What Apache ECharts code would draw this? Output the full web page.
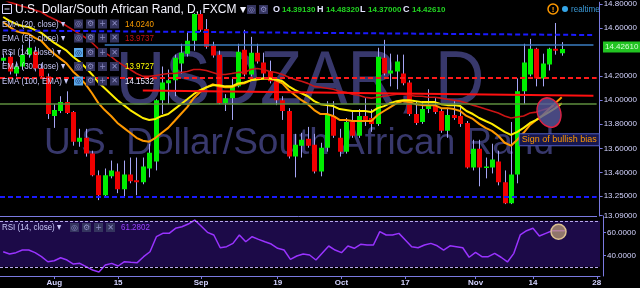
<!DOCTYPE html>
<html><head><meta charset="utf-8">
<script src="https://cdn.jsdelivr.net/npm/echarts@6/dist/echarts.min.js"></script>
<style>html,body{margin:0;padding:0;background:#000;}#c{width:640px;height:288px;}</style>
</head><body><div id="c"></div>
<script>
// ---------- DATA ----------
const dates = [
'2016-07-20','2016-07-21','2016-07-22','2016-07-25','2016-07-26','2016-07-27','2016-07-28','2016-07-29',
'2016-08-01','2016-08-02','2016-08-03','2016-08-04','2016-08-05','2016-08-08','2016-08-09','2016-08-10','2016-08-11','2016-08-12',
'2016-08-15','2016-08-16','2016-08-17','2016-08-18','2016-08-19','2016-08-22','2016-08-23','2016-08-24','2016-08-25','2016-08-26',
'2016-08-29','2016-08-30','2016-08-31','2016-09-01','2016-09-02','2016-09-05','2016-09-06','2016-09-07','2016-09-08','2016-09-09',
'2016-09-12','2016-09-13','2016-09-14','2016-09-15','2016-09-16','2016-09-19','2016-09-20','2016-09-21','2016-09-22','2016-09-23',
'2016-09-26','2016-09-27','2016-09-28','2016-09-29','2016-09-30','2016-10-03','2016-10-04','2016-10-05','2016-10-06','2016-10-07',
'2016-10-10','2016-10-11','2016-10-12','2016-10-13','2016-10-14','2016-10-17','2016-10-18','2016-10-19','2016-10-20','2016-10-21',
'2016-10-24','2016-10-25','2016-10-26','2016-10-27','2016-10-28','2016-10-31','2016-11-01','2016-11-02','2016-11-03','2016-11-04',
'2016-11-07','2016-11-08','2016-11-09','2016-11-10','2016-11-11','2016-11-14','2016-11-15','2016-11-16','2016-11-17','2016-11-18',
'2016-11-21','2016-11-22','2016-11-23','2016-11-24','2016-11-25','2016-11-28'];

const opens = [
14.329,14.362,14.222,14.280,14.379,14.403,14.264,14.198,13.869,13.910,
13.984,13.901,13.655,13.687,13.556,13.375,13.210,13.367,13.408,13.260,
13.383,13.334,13.317,13.432,13.490,14.000,14.140,14.165,14.305,14.387,
14.494,14.716,14.593,14.453,14.379,13.976,14.017,14.115,14.420,14.214,
14.395,14.313,14.239,14.157,14.000,13.910,13.531,13.622,13.679,13.630,
13.408,13.605,13.869,13.687,13.572,13.819,13.704,13.869,13.852,13.803,
14.354,14.222,14.239,14.222,14.148,13.885,13.819,13.926,13.951,13.910,
13.745,13.877,13.869,13.811,13.441,13.597,13.441,13.441,13.490,13.317,
13.144,13.383,14.074,14.214,14.428,14.181,14.297,14.428,14.3913];
const closes = [
14.354,14.239,14.280,14.379,14.436,14.264,14.198,13.885,13.918,13.984,
13.893,13.655,13.687,13.556,13.375,13.210,13.375,13.416,13.260,13.383,
13.325,13.317,13.449,13.564,14.000,14.148,14.165,14.354,14.395,14.494,
14.716,14.585,14.445,14.371,13.976,14.017,14.115,14.403,14.214,14.395,
14.321,14.222,14.157,14.000,13.910,13.531,13.630,13.671,13.622,13.408,
13.605,13.877,13.704,13.572,13.819,13.704,13.869,13.836,13.803,14.362,
14.222,14.247,14.321,14.140,13.885,13.811,13.926,13.959,13.901,13.745,
13.877,13.852,13.803,13.441,13.597,13.441,13.449,13.506,13.317,13.144,
13.383,14.074,14.313,14.428,14.181,14.305,14.428,14.412,14.4261];
const lows = [
14.305,14.214,14.198,14.255,14.354,14.239,14.181,13.844,13.770,13.893,
13.885,13.622,13.613,13.531,13.367,13.169,13.202,13.350,13.227,13.194,
13.309,13.210,13.301,13.358,13.416,13.885,13.967,14.033,14.222,14.362,
14.412,14.568,14.428,14.354,13.967,13.910,13.836,14.107,14.198,14.198,
14.305,14.173,14.140,13.959,13.836,13.515,13.358,13.523,13.605,13.391,
13.367,13.572,13.687,13.531,13.556,13.687,13.687,13.786,13.737,13.786,
14.206,14.115,14.091,14.124,13.869,13.794,13.803,13.893,13.885,13.729,
13.687,13.836,13.778,13.432,13.416,13.284,13.350,13.391,13.292,13.136,
13.136,13.309,13.967,14.198,14.115,14.115,14.247,14.379,14.37];
const highs = [
14.387,14.403,14.321,14.461,14.510,14.445,14.305,14.222,13.967,14.033,
14.074,13.910,13.762,13.762,13.580,13.416,13.432,13.498,13.474,13.498,
13.523,13.523,13.523,13.638,14.008,14.280,14.255,14.379,14.469,14.568,
14.724,14.749,14.675,14.486,14.412,14.050,14.181,14.469,14.585,14.527,
14.469,14.395,14.329,14.190,14.033,13.934,13.720,13.729,13.778,13.720,
13.646,13.992,13.992,13.762,13.852,13.910,13.926,14.017,13.926,14.436,
14.502,14.387,14.379,14.379,14.165,13.992,13.992,14.091,14.017,13.934,
13.934,13.992,13.959,13.827,13.671,13.671,13.523,13.638,13.580,13.416,
13.819,14.181,14.469,14.510,14.436,14.387,14.436,14.642,14.4832];

const ema20 = [
14.650,14.609,14.576,14.560,14.552,14.519,14.494,14.436,14.387,14.346,
14.305,14.239,14.190,14.132,14.058,13.976,13.918,13.869,13.811,13.770,
13.729,13.687,13.663,13.655,13.687,13.729,13.770,13.827,13.885,13.943,
14.017,14.066,14.107,14.132,14.115,14.107,14.107,14.132,14.140,14.165,
14.181,14.181,14.181,14.165,14.140,14.083,14.041,14.000,13.967,13.918,
13.885,13.885,13.869,13.836,13.836,13.827,13.827,13.827,13.827,13.877,
13.910,13.943,13.976,13.992,13.984,13.967,13.959,13.959,13.959,13.934,
13.934,13.926,13.910,13.869,13.844,13.803,13.770,13.745,13.704,13.646,
13.622,13.671,13.729,13.794,13.836,13.877,13.926,13.976,14.024];
const ema30 = [
14.692,14.659,14.634,14.617,14.609,14.585,14.560,14.519,14.478,14.445,
14.412,14.362,14.321,14.272,14.214,14.148,14.099,14.050,14.000,13.959,
13.918,13.885,13.852,13.836,13.844,13.869,13.885,13.926,13.967,14.008,
14.050,14.083,14.107,14.124,14.124,14.115,14.115,14.140,14.148,14.165,
14.173,14.181,14.181,14.173,14.157,14.115,14.083,14.058,14.033,13.992,
13.967,13.959,13.951,13.926,13.918,13.910,13.910,13.910,13.901,13.934,
13.951,13.976,13.992,14.000,14.000,13.992,13.984,13.984,13.984,13.967,
13.959,13.959,13.951,13.910,13.885,13.852,13.827,13.803,13.770,13.737,
13.712,13.737,13.770,13.811,13.836,13.869,13.901,13.934,13.973];
const ema55 = [
14.840,14.815,14.799,14.782,14.766,14.749,14.733,14.700,14.675,14.650,
14.617,14.585,14.552,14.519,14.478,14.428,14.395,14.362,14.321,14.288,
14.255,14.222,14.198,14.198,14.206,14.214,14.222,14.222,14.231,14.239,
14.255,14.255,14.247,14.231,14.214,14.214,14.222,14.231,14.231,14.255,
14.264,14.255,14.239,14.231,14.214,14.190,14.173,14.157,14.140,14.115,
14.107,14.099,14.091,14.074,14.066,14.050,14.041,14.025,14.017,14.025,
14.033,14.041,14.050,14.050,14.041,14.033,14.033,14.025,14.025,14.017,
14.008,14.000,13.992,13.976,13.959,13.943,13.926,13.910,13.893,13.869,
13.852,13.860,13.869,13.893,13.901,13.918,13.934,13.951,13.974];
const rsi = [
43.1,41.1,42.3,44.6,44.6,42.3,38.8,34.4,35.3,37.9,
35.9,32.4,33.0,30.1,27.2,25.5,31.6,33.0,30.7,34.4,
33.9,33.6,38.8,43.1,56.2,59.1,59.1,63.5,64.9,67.2,
70.7,65.5,60.0,57.7,46.6,47.5,50.4,57.7,51.8,56.2,
53.9,51.8,49.8,46.1,44.6,36.5,39.4,41.1,40.3,35.9,
42.0,48.1,44.6,42.3,48.1,46.1,49.6,49.0,49.0,60.6,
57.7,57.7,59.1,53.3,47.5,46.6,49.0,50.4,48.3,44.6,
48.3,47.5,46.6,38.3,42.6,38.8,38.8,41.7,38.3,34.2,
41.7,57.7,61.4,63.5,56.8,59.1,61.4,61.4,61.28];

// horizontal drawings (price levels)
const blueTopLine = [14.580, 14.542];   // start / end
const steelLine = 14.461;
const redDashLevel = 14.185;
const redTrendLine = [14.080, 14.036];
const greenLevel = 13.970;
const blueBottomLevel = 13.202;
const lastPrice = 14.4261;

const xTickDates = ['2016-08-01','2016-08-15','2016-09-01','2016-09-19','2016-10-03','2016-10-17','2016-11-01','2016-11-14','2016-11-28'];
const xTickText  = ['Aug','15','Sep','19','Oct','17','Nov','14','28'];
const yTickValues = [13.04, 13.202, 13.4, 13.6, 13.8, 14.0, 14.2, 14.6, 14.8];
const yTickLabels = ['13.09000','13.25000','13.40000','13.60000','13.80000','14.00000','14.20000','14.60000','14.80000'];
const rsiTickValues = [40, 60];

const legendRows = [
  {name:'EMA (20, close) \u25BE', value:'14.0240', color:'#ff9f00', hi:false},
  {name:'EMA (55, close) \u25BE', value:'13.9737', color:'#c81212', hi:false},
  {name:'RSI (14, close) \u25BE', value:'', color:'#fff', hi:true},
  {name:'EMA (30, close) \u25BE', value:'13.9727', color:'#ffff00', hi:false},
  {name:'EMA (100, EMA) \u25BE', value:'14.1532', color:'#e8e8ff', hi:true}
];
const ohlc = [['O','14.39130'],['H','14.48320'],['L','14.37000'],['C','14.42610']];

// ---------- CHART ----------
const axisColor = '#7a7ae0';
const labelColor = '#d4d4ff';
const chart = echarts.init(document.getElementById('c'), null, {renderer:'canvas'});
const candleData = opens.map((o, i) => [i, o, closes[i], lows[i], highs[i]]);

function renderCandle(params, api) {
  const i = api.value(0);
  const o = api.value(1), c = api.value(2), l = api.value(3), h = api.value(4);
  const po = api.coord([i, o]);
  const yc = api.coord([i, c])[1], yl = api.coord([i, l])[1], yh = api.coord([i, h])[1];
  const xr = Math.round(po[0]);
  const bw = 5;
  const up = c >= o;
  const top = Math.min(po[1], yc), hgt = Math.max(1.5, Math.abs(po[1] - yc));
  return {type:'group', children:[
    {type:'line', shape:{x1:xr+0.5, y1:yh, x2:xr+0.5, y2:yl}, style:{stroke:'#a6a6f6', lineWidth:1}},
    {type:'rect', shape:{x:xr+0.5-bw/2, y:top, width:bw, height:hgt}, style:{fill: up ? '#00ee00' : '#f00000'}}
  ]};
}

const F = '"Liberation Sans", Arial, sans-serif';
function txt(x, y, text, fill, font, sx, align) {
  return {type:'text', x:x, y:y, z:100, silent:true, scaleX: sx || 1,
    style:{text:text, fill:fill, font:font, align:align||'left', textAlign:align||'left',
      verticalAlign:'middle', textVerticalAlign:'middle'}};
}
const glyphs = ['\u25CE','\u2699','+','\u2715'];
function icons(xs, y, hi, n) {
  const out = [];
  for (let k = 0; k < (n||4); k++) {
    const h = hi && k === 0;
    out.push({type:'rect', z:100, silent:true, shape:{x:xs[k], y:y-4.5, width:9, height:9},
      style:{fill: h ? '#5aa8ea' : '#34345e'}});
    out.push(txt(xs[k]+4.5, y, glyphs[k], h ? '#1a2a60' : '#8c8cc4', '8px "DejaVu Sans", sans-serif', 1, 'center'));
  }
  return out;
}

const graphics = [];
// watermark
graphics.push({type:'text', x:300, y:83, z:0, silent:true, scaleX:0.9,
  style:{text:'USDZAR, D', fill:'#38386c', font:'76px '+F, align:'center', textAlign:'center', verticalAlign:'middle', textVerticalAlign:'middle'}});
graphics.push({type:'text', x:299, y:144, z:0, silent:true,
  style:{text:'U.S. Dollar/South African Rand', fill:'#38386c', font:'37px '+F, align:'center', textAlign:'center', verticalAlign:'middle', textVerticalAlign:'middle'}});
// header
graphics.push({type:'rect', z:100, silent:true, shape:{x:2.5, y:4.5, width:9, height:9}, style:{fill:'none', stroke:'#d8d8ff', lineWidth:1}});
graphics.push({type:'line', z:100, silent:true, shape:{x1:4.5, y1:9, x2:9.5, y2:9}, style:{stroke:'#d8d8ff', lineWidth:1}});
graphics.push(txt(15, 10, 'U.S. Dollar/South African Rand, D, FXCM \u25BE', '#f4f4ff', '12px '+F));
graphics.push(...icons([247, 259], 9.5, false, 2));
const ohlcX = [[273, 282], [317, 326], [360, 368], [403, 412]];
ohlc.forEach((p, k) => {
  graphics.push(txt(ohlcX[k][0], 10, p[0], '#e4e4ff', 'bold 9px '+F));
  graphics.push(txt(ohlcX[k][1], 10, p[1], '#22d622', 'bold 8px '+F));
});
// realtime
graphics.push({type:'circle', z:100, silent:true, shape:{cx:553, cy:9, r:5}, style:{fill:'none', stroke:'#ff9900', lineWidth:1.5}});
graphics.push(txt(553, 9.5, '!', '#ff9900', 'bold 8px '+F, 1, 'center'));
graphics.push({type:'circle', z:100, silent:true, shape:{cx:565, cy:9, r:3}, style:{fill:'#35a6e8'}});
graphics.push(txt(571, 9, 'realtime', '#3a9ad8', '9.5px '+F, 0.85));
// legend rows
const rowY = [24, 38, 52.5, 66.5, 81];
legendRows.forEach((r, k) => {
  graphics.push(txt(2, rowY[k], r.name, '#c8c8f8', '9.5px '+F, 0.84));
  graphics.push(...icons([74, 86, 98, 110], rowY[k], r.hi));
  if (r.value) graphics.push(txt(125, rowY[k], r.value, r.color, '9.5px '+F, 0.84));
});
// rsi legend
graphics.push(txt(2, 227.5, 'RSI (14, close) \u25BE', '#c8c8f8', '9.5px '+F, 0.84));
graphics.push(...icons([70, 82, 94, 106], 227.5, false));
graphics.push(txt(121, 227.5, '61.2802', '#9a40ff', '9.5px '+F, 0.84));
// current price tag on the price scale
graphics.push({type:'rect', z:100, silent:true, shape:{x:603, y:41.5, width:37, height:11}, style:{fill:'#22c422'}});
graphics.push(txt(605, 47.2, '14.42610', '#d8ffd8', '8px '+F));

const redDash = {color:'#ff1a1a', width:2, type:[5,3]};
const blueDash = {color:'#1a1aff', width:2, type:[5,3]};

const option = {
  backgroundColor:'#000000',
  animation:false,
  textStyle:{fontFamily:'Liberation Sans, Arial, sans-serif'},
  grid:[{left:0, right:40, top:0, height:216}, {left:0, right:40, top:216, height:60}],
  xAxis:[
    {type:'category', gridIndex:0, data:dates, boundaryGap:true,
     axisLine:{show:true, onZero:false, lineStyle:{color:axisColor, width:1}}, axisTick:{show:false}, axisLabel:{show:false}, splitLine:{show:false}},
    {type:'category', gridIndex:1, data:dates, boundaryGap:true,
     axisLine:{show:true, onZero:false, lineStyle:{color:axisColor, width:1}},
     axisTick:{show:true, alignWithLabel:true, length:3, lineStyle:{color:axisColor},
       interval:(idx, v) => xTickDates.indexOf(v) >= 0},
     axisLabel:{interval:(idx, v) => xTickDates.indexOf(v) >= 0,
       formatter:(v) => xTickText[xTickDates.indexOf(v)] || '',
       color:labelColor, fontSize:8, fontWeight:'bold', margin:3},
     splitLine:{show:false}}
  ],
  yAxis:[
    {type:'value', gridIndex:0, position:'right', offset:3, min:13.037, max:14.815,
     splitLine:{show:false}, axisLine:{show:true, lineStyle:{color:axisColor}},
     axisTick:{show:true, length:3, customValues:yTickValues, lineStyle:{color:axisColor}},
     axisLabel:{customValues:yTickValues, color:labelColor, fontSize:8, margin:4,
       formatter:(v) => { const k = yTickValues.indexOf(v); return k >= 0 ? yTickLabels[k] : v.toFixed(5); }}},
    {type:'value', gridIndex:1, position:'right', offset:3, min:22, max:74.2,
     splitLine:{show:false}, axisLine:{show:true, lineStyle:{color:axisColor}},
     axisTick:{show:true, length:3, customValues:rsiTickValues, lineStyle:{color:axisColor}},
     axisLabel:{customValues:rsiTickValues, color:labelColor, fontSize:8, margin:4,
       formatter:(v) => v.toFixed(4)}}
  ],
  graphic:{elements:graphics},
  series:[
    {type:'custom', name:'USDZAR', xAxisIndex:0, yAxisIndex:0, z:2, clip:true,
     renderItem:renderCandle, encode:{x:0, y:[1,2,3,4]}, data:candleData},
    {type:'line', name:'EMA55', xAxisIndex:0, yAxisIndex:0, z:3, data:ema55, symbol:'none',
     lineStyle:{color:'#cc1414', width:1.6}, clip:true,
     markLine:{silent:true, symbol:['none','none'], label:{show:false}, data:[
       [{coord:[0, blueTopLine[0]], lineStyle:blueDash}, {coord:[93, blueTopLine[1]], lineStyle:blueDash}],
       [{coord:[16, steelLine], lineStyle:{color:'#3a7cc0', width:1.5, type:'solid'}}, {coord:[93, steelLine], lineStyle:{color:'#3a7cc0', width:1.5, type:'solid'}}],
       {yAxis:redDashLevel, lineStyle:redDash},
       [{coord:[22, redTrendLine[0]], lineStyle:{color:'#ff1010', width:2, type:'solid'}}, {coord:[93, redTrendLine[1]], lineStyle:{color:'#ff1010', width:2, type:'solid'}}],
       {yAxis:greenLevel, lineStyle:{color:'#5e8e3e', width:1.5, type:'solid'}},
       {yAxis:blueBottomLevel, lineStyle:blueDash}
     ]},
     markPoint:{silent:true, data:[
       {coord:[86, 13.897], symbol:'circle', symbolSize:[23,30], symbolRotate:20,
        itemStyle:{color:'rgba(90,90,160,0.8)', borderColor:'#dd2244', borderWidth:1.5}, label:{show:false}},
       {coord:[81, 13.671], symbol:'rect', symbolSize:1, itemStyle:{color:'rgba(0,0,0,0)'},
        label:{show:true, position:'right', distance:2, formatter:'Sign of bullish bias', color:'#ff9a00', fontSize:9,
          backgroundColor:'#17174e', borderColor:'#4e5ec4', borderWidth:1, padding:[1,2,1,2]}}
     ]}},
    {type:'line', name:'EMA20', xAxisIndex:0, yAxisIndex:0, z:4, data:ema20, symbol:'none',
     lineStyle:{color:'#ff9900', width:2}, clip:true},
    {type:'line', name:'EMA30', xAxisIndex:0, yAxisIndex:0, z:4, data:ema30, symbol:'none',
     lineStyle:{color:'#ffee00', width:2}, clip:true},
    {type:'line', name:'RSI', xAxisIndex:1, yAxisIndex:1, z:4, data:rsi, symbol:'none',
     lineStyle:{color:'#9933ff', width:1.5},
     markArea:{silent:true, itemStyle:{color:'#1c0a48'}, data:[[{yAxis:30},{yAxis:70}]]},
     markLine:{silent:true, symbol:['none','none'], label:{show:false},
       lineStyle:{color:'#b8a8f0', width:1, type:[3,2]}, data:[{yAxis:70},{yAxis:30}]},
     markPoint:{silent:true, data:[
       {coord:[87, 60.5], symbol:'circle', symbolSize:15,
        itemStyle:{color:'rgba(190,160,120,0.72)', borderColor:'#dcc090', borderWidth:1.5}, label:{show:false}}
     ]}}
  ]
};
chart.setOption(option);
</script></body></html>
